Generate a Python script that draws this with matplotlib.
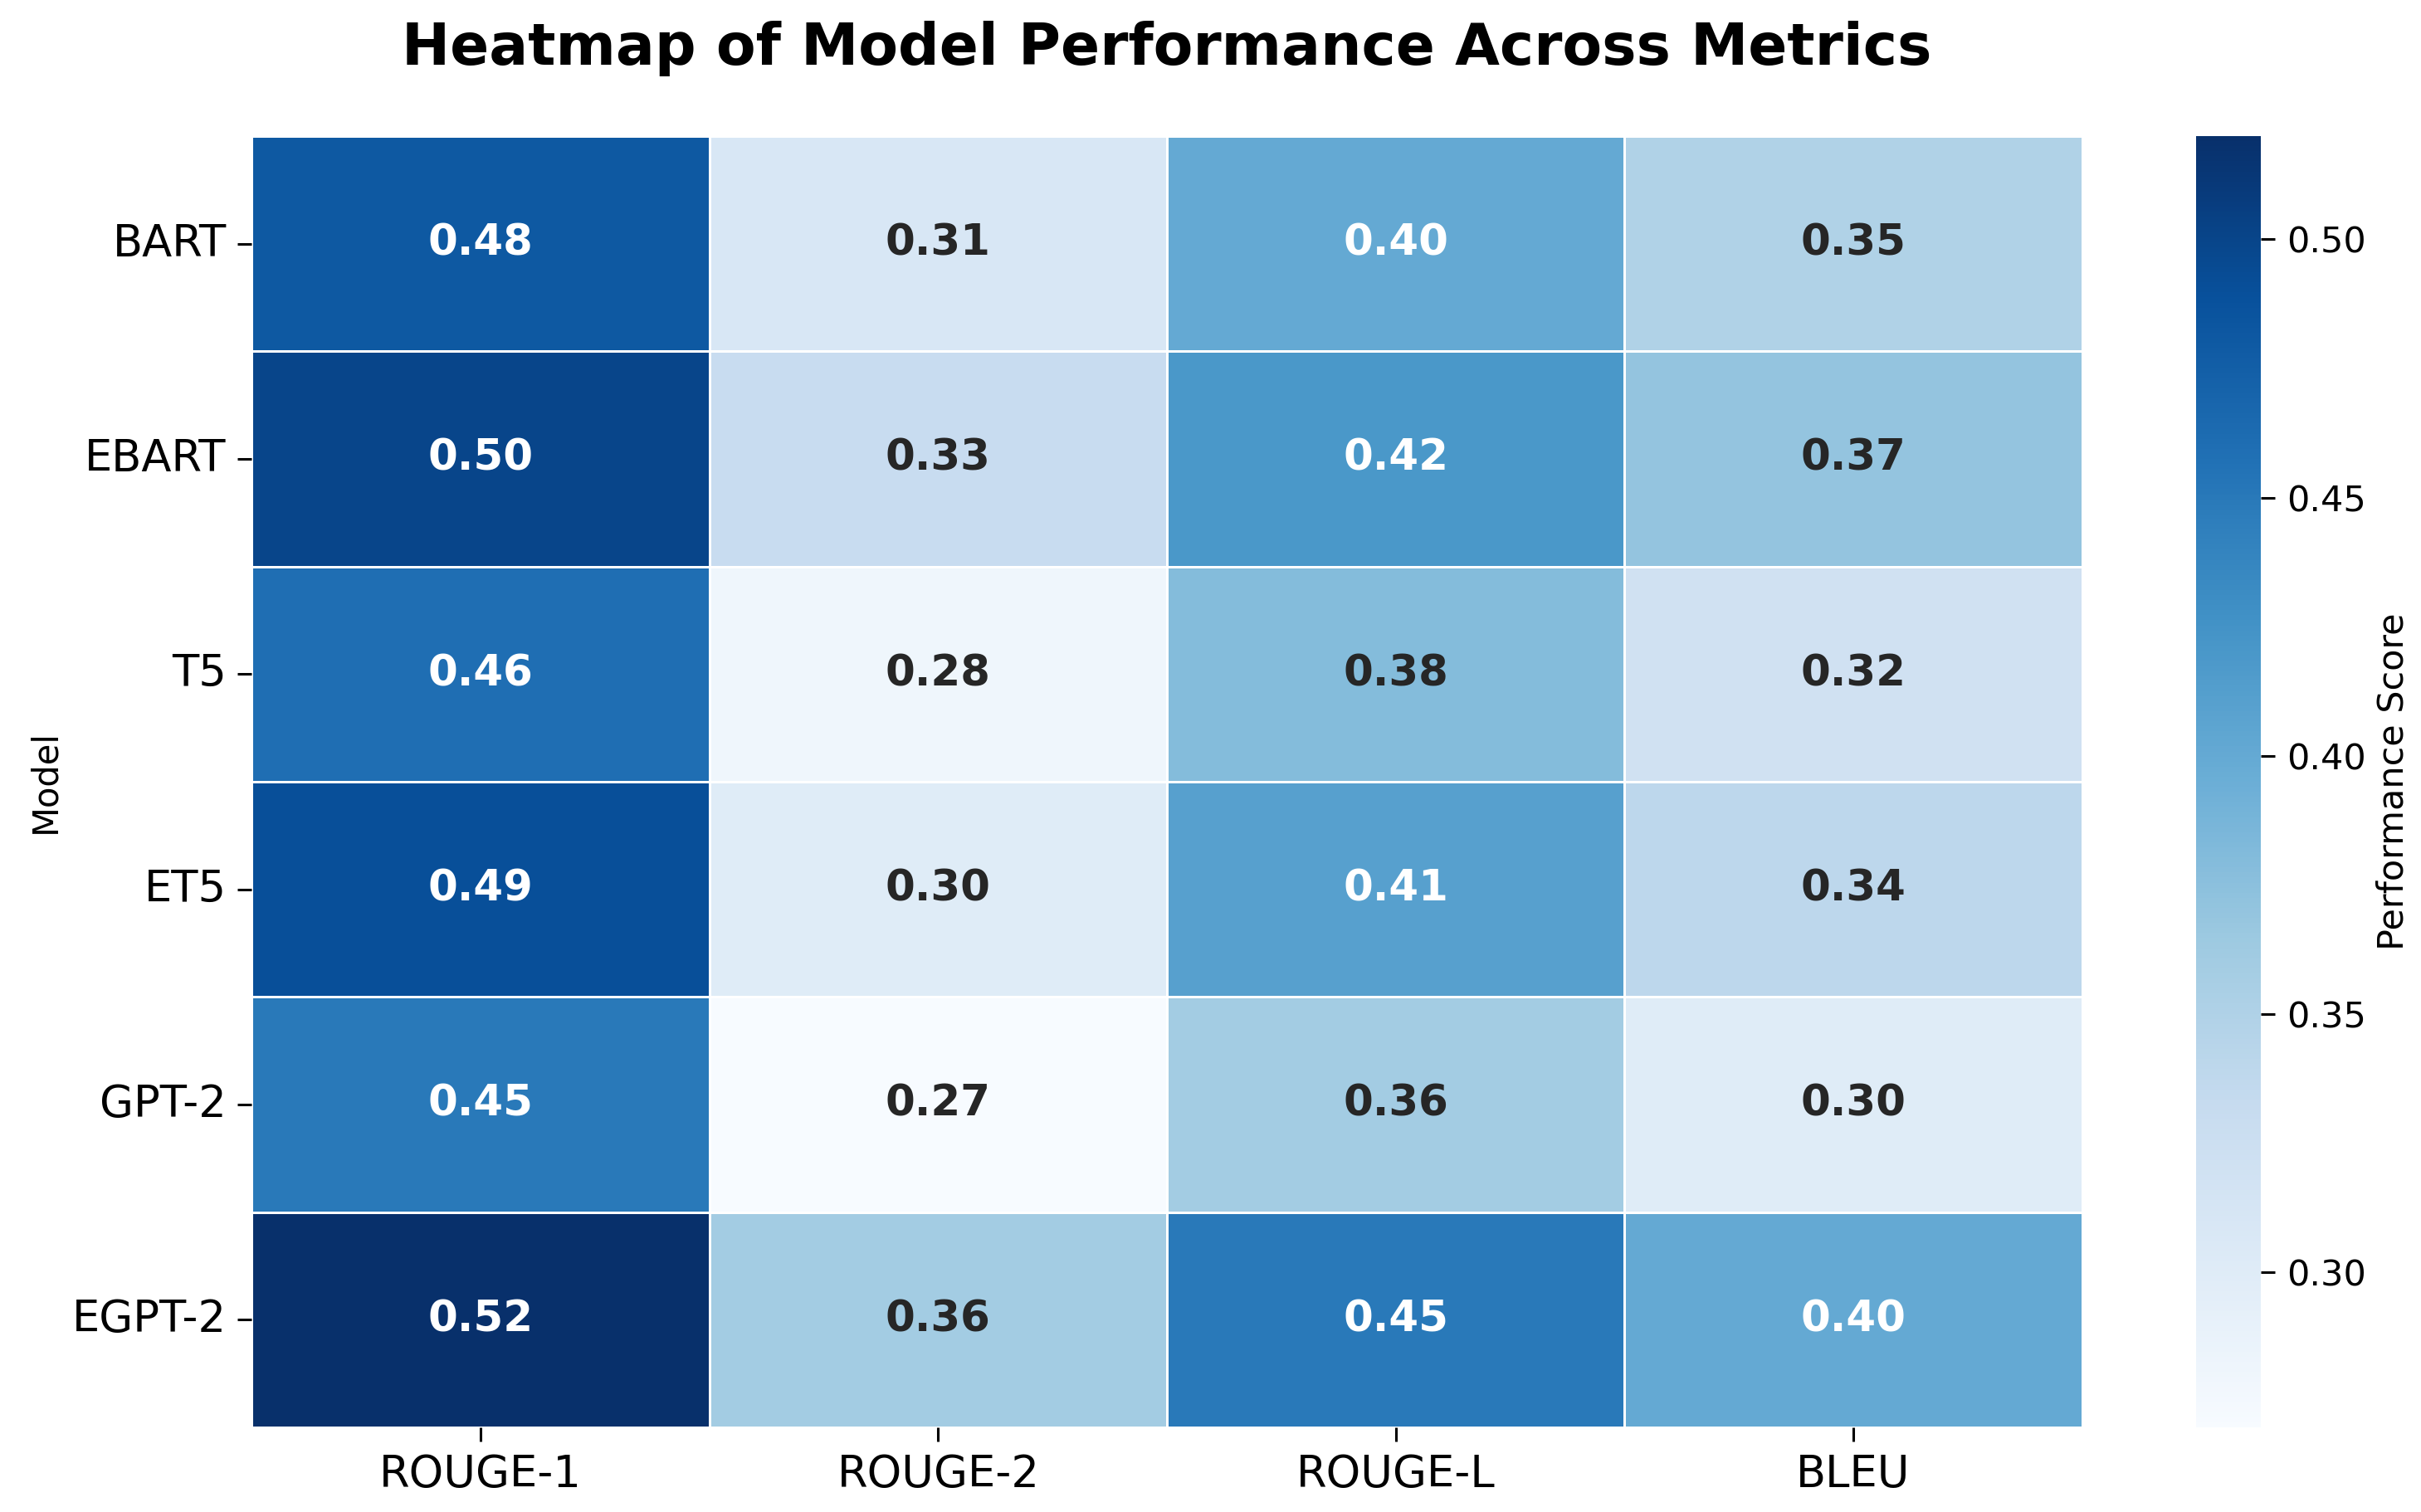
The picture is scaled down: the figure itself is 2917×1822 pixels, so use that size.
import matplotlib
matplotlib.use("Agg")
import matplotlib.pyplot as plt
import seaborn as sns
import pandas as pd

models = ["BART", "EBART", "T5", "ET5", "GPT-2", "EGPT-2"]
metrics = ["ROUGE-1", "ROUGE-2", "ROUGE-L", "BLEU"]
rouge1 = [0.48, 0.50, 0.46, 0.49, 0.45, 0.52]
rouge2 = [0.31, 0.33, 0.28, 0.30, 0.27, 0.36]
rougeL = [0.40, 0.42, 0.38, 0.41, 0.36, 0.45]
bleu = [0.35, 0.37, 0.32, 0.34, 0.30, 0.40]

df = pd.DataFrame({"ROUGE-1": rouge1, "ROUGE-2": rouge2, "ROUGE-L": rougeL, "BLEU": bleu},
                  index=models)[metrics]

fig = plt.figure(figsize=(14.585, 9.11), dpi=200)
ax = fig.add_axes([0.104, 0.056, 0.756, 0.854])
cax = fig.add_axes([0.907, 0.056, 0.027, 0.854])

sns.heatmap(df, ax=ax, cbar_ax=cax, cmap="Blues", annot=True, fmt=".2f",
            linewidths=0.5, linecolor="white",
            annot_kws={"fontsize": 18.5, "fontweight": "bold"},
            cbar_kws={"label": "Performance Score"})
ax.set_title("Heatmap of Model Performance Across Metrics", fontsize=25,
             fontweight="bold", pad=31)
ax.set_ylabel("Model", fontsize=15)
ax.set_xlabel("")
ax.tick_params(axis="both", labelsize=19, length=6, width=1.1, pad=5)
ax.set_yticklabels(ax.get_yticklabels(), rotation=0)
cax.tick_params(labelsize=15.5, length=6, width=1.1, pad=5)
cax.yaxis.label.set_size(15.5)

fig.savefig("out.png", dpi=200)
